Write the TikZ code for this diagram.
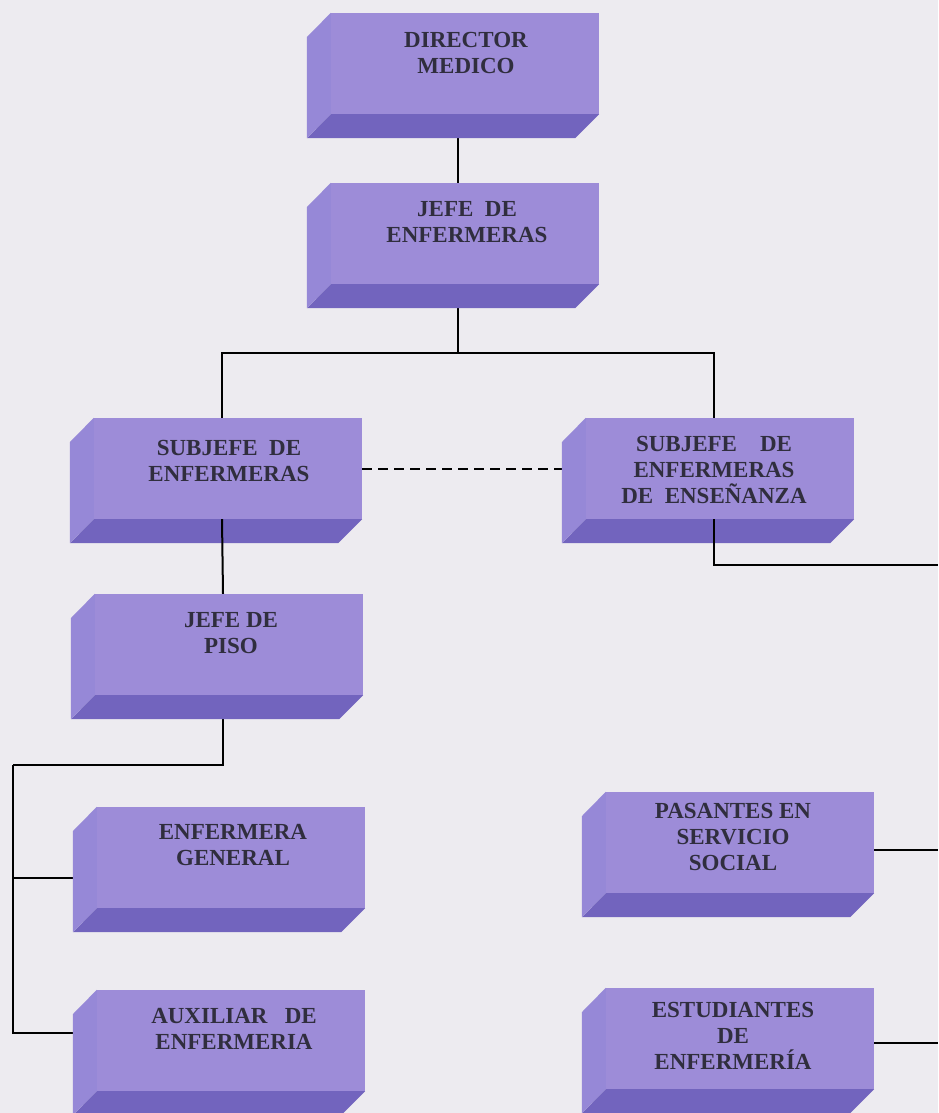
\documentclass[tikz,border=0pt]{standalone}
\usepackage{fontspec}
\setmainfont{Liberation Serif}
\usetikzlibrary{backgrounds}

\definecolor{frontc}{RGB}{157,140,216}
\definecolor{leftc}{RGB}{150,136,215}
\definecolor{bottomc}{RGB}{114,100,190}
\definecolor{inkc}{RGB}{48,46,62}
\definecolor{paperc}{RGB}{237,235,240}

\begin{document}
\begin{tikzpicture}[x=1pt,y=-1pt,
  face/.style={rectangle, fill=frontc, minimum width=268pt, minimum height=101pt, inner sep=0pt},
  boxtext/.style={align=center, inner sep=0pt, text=inkc, font=\fontsize{23}{26}\selectfont\bfseries},
  link/.style={line width=2pt, black}]
\useasboundingbox (0,0) rectangle (938,1113);

% front faces
\node[face] (dir) at (465,63.5) {};
\node[face] (jef) at (465,233.5) {};
\node[face] (sub) at (228,468.5) {};
\node[face] (ens) at (720,468.5) {};
\node[face] (piso) at (229,644.5) {};
\node[face] (gen) at (231,857.5) {};
\node[face] (aux) at (231,1040.5) {};
\node[face] (pas) at (740,842.5) {};
\node[face] (est) at (740,1038.5) {};

% left and bottom faces
\foreach \n in {dir,jef,sub,ens,piso,gen,aux,pas,est} {
  \fill[leftc] (\n.north west) -- (\n.south west) -- ++(-24,24) -- ++(0,-101) -- cycle;
  \fill[bottomc] (\n.south west) -- (\n.south east) -- ++(-24,24) -- ++(-268,0) -- cycle;
}

% labels
\node[boxtext] (dirtxt) at (466,52.5) {DIRECTOR\\MEDICO};
\node[boxtext] (jeftxt) at (467,222.5) {JEFE\ \ DE\\ENFERMERAS};
\node[boxtext] (subtxt) at (229,460.5) {SUBJEFE\ \ DE\\ENFERMERAS};
\node[boxtext] (enstxt) at (714,470) {SUBJEFE\ \ \ \ DE\\ENFERMERAS\\DE\ \ ENSEÑANZA};
\node[boxtext] (pisotxt) at (231,633.5) {JEFE DE\\PISO};
\node[boxtext] (gentxt) at (233,845.5) {ENFERMERA\\GENERAL};
\node[boxtext] (auxtxt) at (234,1029) {AUXILIAR\ \ \ DE\\ENFERMERIA};
\node[boxtext] (pastxt) at (733,836.5) {PASANTES EN\\SERVICIO\\SOCIAL};
\node[boxtext] (esttxt) at (733,1035.5) {ESTUDIANTES\\DE\\ENFERMERÍA};

% connectors behind the boxes
\begin{scope}[on background layer]
\fill[paperc] (0,0) rectangle (938,1113);
\draw[link] ([xshift=-7pt]dir.south) -- ([xshift=-7pt]jef.north);
\coordinate (jefbus) at (458,353);
\draw[link] ([xshift=-7pt]jef.south) -- (jefbus);
\draw[link] ([xshift=-6pt]sub.north) |- (jefbus) -| ([xshift=-6pt]ens.north);
\draw[link, dash pattern=on 10pt off 6pt] (sub.east) -- (ens.west);
\coordinate (pisobus) at (13,765);
\draw[link] ([xshift=-6pt]piso.south) |- (pisobus);
\draw[link] (pisobus) |- ([yshift=-20pt]gen.west);
\draw[link] (pisobus) |- ([yshift=8pt]aux.west);
\coordinate (pasend) at (938,850);
\coordinate (estend) at (938,1043);
\draw[link] (pas.east |- pasend) -- (pasend);
\draw[link] (est.east |- estend) -- (estend);
\end{scope}

% connectors over the bottom faces
\draw[link] ([xshift=-6pt]sub.south) -- ([xshift=-6pt]piso.north);
\coordinate (ensbus) at (938,565);
\draw[link] ([xshift=-6pt]ens.south) |- (ensbus);
\end{tikzpicture}
\end{document}
